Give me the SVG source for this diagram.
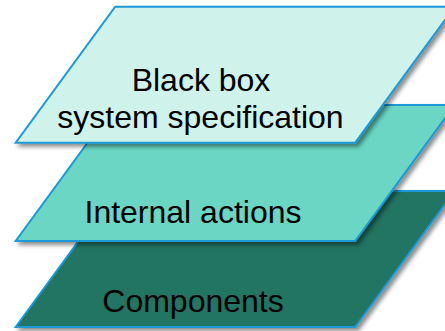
<svg xmlns="http://www.w3.org/2000/svg" width="445" height="331" viewBox="0 0 445 331">
  <defs>
    <filter id="shadow" x="-10%" y="-10%" width="130%" height="130%">
      <feDropShadow dx="3" dy="3" stdDeviation="2" flood-color="#000" flood-opacity="0.45"/>
    </filter>
  </defs>
  <style>
    .layer { stroke: #1a9ad8; stroke-width: 2; stroke-linejoin: miter; filter: url(#shadow); }
    .label { font-family: "Liberation Sans", Arial, sans-serif; font-size: 32px; fill: #000; text-anchor: middle; }
  </style>
  <rect width="445" height="331" fill="#fff"/>

  <!-- lowest layer -->
  <g id="components">
    <polygon class="layer" fill="#217462" points="115.2,191 454.7,191 355.2,327 15.7,327"/>
    <text class="label" x="193" y="311.5">Components</text>
  </g>

  <!-- middle layer -->
  <g id="internal-actions">
    <polygon class="layer" fill="#6bd6c3" points="115.2,105 454.7,105 355.2,241 15.7,241"/>
    <text class="label" x="193" y="222.5">Internal actions</text>
  </g>

  <!-- top layer -->
  <g id="black-box-spec">
    <polygon class="layer" fill="#cff2eb" points="115.2,6.7 454.7,6.7 355.2,142.7 15.7,142.7"/>
    <text class="label" x="201" y="90.5">Black box</text>
    <text class="label" x="200.5" y="128.3">system specification</text>
  </g>
</svg>
